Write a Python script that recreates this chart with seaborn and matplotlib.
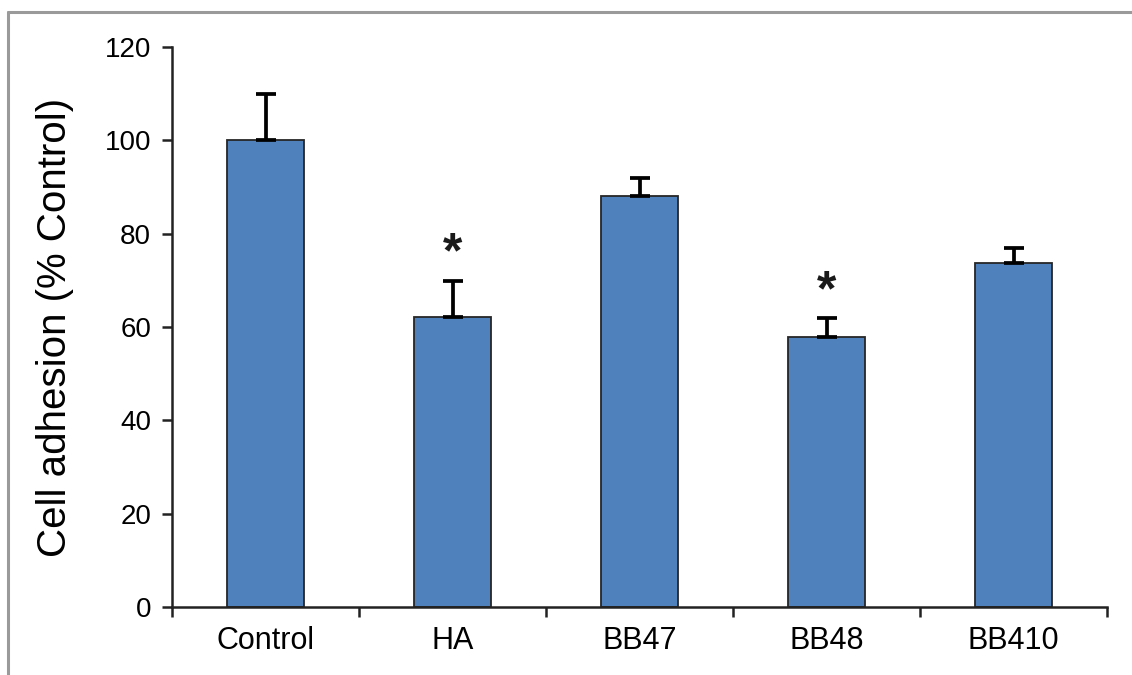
import matplotlib
matplotlib.use("Agg")
import matplotlib.pyplot as plt
import seaborn as sns
import numpy as np
from matplotlib.lines import Line2D

categories = ["Control", "HA", "BB47", "BB48", "BB410"]
values = [100, 62.2, 88.1, 57.8, 73.7]
errors = [9.9, 7.7, 3.8, 4.1, 3.3]
significant = [False, True, False, True, False]
y_ticks = [0, 20, 40, 60, 80, 100, 120]
y_label = "Cell adhesion (% Control)"

sns.set_style("white")
plt.rcParams['font.family'] = ['Liberation Sans', 'DejaVu Sans']
plt.rcParams['text.color'] = 'black'
plt.rcParams['axes.labelcolor'] = 'black'
plt.rcParams['xtick.color'] = 'black'
plt.rcParams['ytick.color'] = 'black'

fig = plt.figure(figsize=(11.32, 6.75), dpi=100)
ax = fig.add_axes([172/1132, 1-607/675, (1107-172)/1132, (607-47)/675])

sns.barplot(x=categories, y=values, color="#4F81BD", width=0.41,
            edgecolor="#262626", linewidth=1.3, ax=ax, saturation=1)

xpos = np.arange(len(categories))
ax.errorbar(xpos, values, yerr=[np.zeros(len(errors)), errors], fmt='none',
            ecolor='black', elinewidth=2.7, capsize=7, capthick=2.7, zorder=5)

for x, v, e, s in zip(xpos, values, errors, significant):
    if s:
        ax.text(x, v + e + 5.6, "*", ha='center', va='center', fontsize=36,
                fontweight='bold', color='#1a1a1a')

ax.set_xlim(-0.5, len(categories) - 0.5)
ax.set_ylim(0, 120)
ax.set_yticks(y_ticks)
ax.set_yticklabels([str(t) for t in y_ticks], fontsize=20)
ax.set_xticks(np.arange(-0.5, len(categories), 1.0))
ax.set_xticklabels([])
ax.set_xticks(xpos, minor=True)
ax.set_xticklabels(categories, minor=True, fontsize=22)
ax.tick_params(axis='x', which='minor', length=0, pad=14)
ax.tick_params(axis='x', which='major', direction='out', length=7, width=1.8, color='#222222', bottom=True)
ax.tick_params(axis='y', direction='out', length=7, width=1.8, color='#222222', left=True, pad=8)
ax.set_xlabel("")
ax.set_ylabel(y_label, fontsize=29, labelpad=22)

for side in ['top', 'right']:
    ax.spines[side].set_visible(False)
for side in ['left', 'bottom']:
    ax.spines[side].set_color('#222222')
    ax.spines[side].set_linewidth(1.8)

# Outer frame lines (left and top)
fig.add_artist(Line2D([8/1132, 8/1132], [0, 1-12/675], transform=fig.transFigure,
                      color='#9a9a9a', linewidth=2.2))
fig.add_artist(Line2D([8/1132, 1], [1-12/675, 1-12/675], transform=fig.transFigure,
                      color='#9a9a9a', linewidth=2.2))

fig.savefig("out.png", dpi=100)
